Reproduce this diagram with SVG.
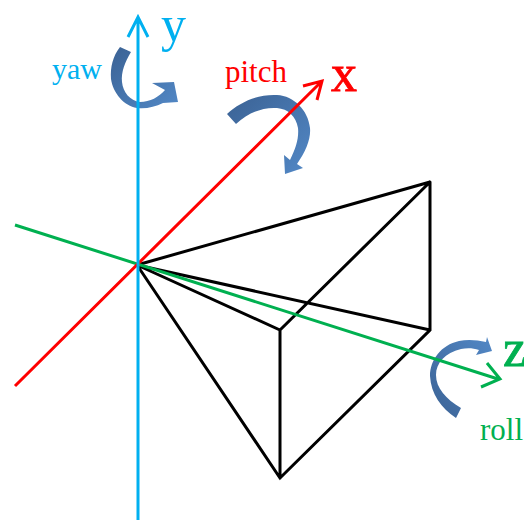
<svg xmlns="http://www.w3.org/2000/svg" width="524" height="520" viewBox="0 0 524 520">
<style>
.b{stroke:#000;stroke-width:3;fill:none;stroke-linecap:round}
.ax{fill:none;stroke-width:3}
.t{font-family:"Liberation Serif","Times New Roman",serif}
.k{stroke-width:.8}
</style>
<defs>
<linearGradient id="g" x1="0" y1="0" x2="1" y2="1"><stop offset="0" stop-color="#3b6294"/><stop offset="1" stop-color="#5288c6"/></linearGradient>
<linearGradient id="g2" x1="0" y1="1" x2="1" y2="0"><stop offset="0" stop-color="#3b6294"/><stop offset="1" stop-color="#5288c6"/></linearGradient>
</defs>
<g id="prism">
<path class="b" d="M137 265L430 182L280 330L137 265L430 330M430 182V330L280 478L137 265M280 330V478"/>
</g>
<g id="yaw">
<path fill="url(#g)" d="M120 47L131 52C125 62 121 72 122 82C123 92 130 101 140 102C150 102 159 97 165 90L152 83L174 82L178 102L163 103C155 107 146 109 137 108C124 106 113 93 111 79C110 67 113 56 120 47Z"/>
<text class="t" x="52" y="79" font-size="30" fill="#00b0f0">yaw</text>
</g>
<g id="pitch">
<path fill="url(#g)" d="M227 114L236 124C248 113 262 107 277 108C288 109 296 116 298 128C299 138 296 148 290 160L284 155L285 174L303 168L297 164C306 151 311 139 310 128C308 110 294 96 277 95C258 94 240 102 227 114Z"/>
<text class="t" x="225" y="82" font-size="31" fill="#ff0000">pitch</text>
</g>
<g id="roll">
<path fill="url(#g2)" d="M456 418L461 408C446 399 436 388 436 375C436 363 445 353 461 349C467 348 473 348 479 350L476 355L492 351L487 337L486 342C477 340 468 339 459 341C441 345 430 360 430 376C431 394 441 408 456 418Z"/>
<text class="t" x="480" y="440" font-size="31" fill="#00b050">roll</text>
</g>
<g id="connectors">
<path id="axis-z" class="ax" stroke="#00b050" d="M15 225L498 379M487 363L500 379L481 387"/>
<path id="axis-x" class="ax" stroke="#ff0000" d="M15 386L321 82M303 86L322 81L317 100"/>
<path id="axis-y" class="ax" stroke="#00b0f0" d="M138 520V19M128 37L138 17L148 37"/>
</g>
<g id="y-label"><text class="t" x="161" y="41" font-size="50" fill="#00b0f0">y</text></g>
<g id="x-label"><text class="t k" x="331" y="91" font-size="52" fill="#ff0000" stroke="#ff0000">x</text></g>
<g id="z-label"><text class="t k" x="503" y="366" font-size="52" fill="#00b050" stroke="#00b050">z</text></g>
</svg>
